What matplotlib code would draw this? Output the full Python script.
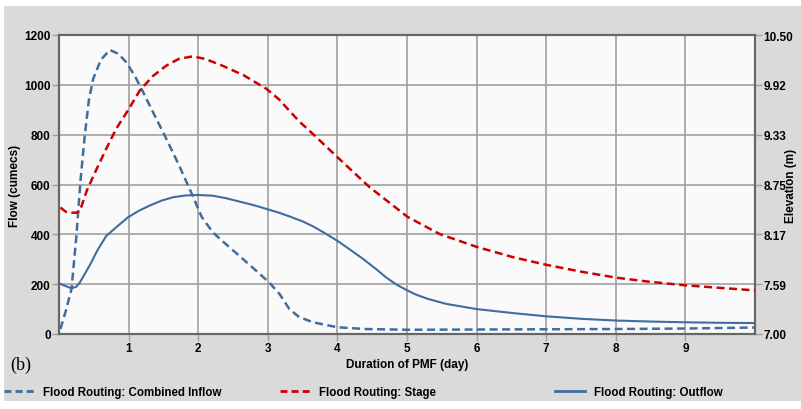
import matplotlib
matplotlib.use("Agg")
import matplotlib.pyplot as plt
import numpy as np
from matplotlib.patches import Rectangle
from matplotlib.lines import Line2D

plt.rcParams['font.family'] = ['Liberation Sans', 'DejaVu Sans']

# ---- data ----
inflow_t = [0.02, 0.10, 0.18, 0.25, 0.31, 0.37, 0.43, 0.49, 0.60, 0.73, 0.85, 0.97,
            1.10, 1.21, 1.36, 1.52, 1.72, 1.92, 2.05, 2.21, 2.40, 2.59, 2.80, 3.02,
            3.17, 3.31, 3.45, 3.65, 4.0, 4.4, 5.0, 6.0, 7.0, 8.0, 9.0, 10.0]
inflow_q = [20, 95, 181, 394, 620, 796, 940, 1023, 1100, 1140, 1125, 1090,
            1030, 970, 885, 796, 680, 555, 470, 408, 360, 314, 262, 207,
            160, 100, 68, 47, 27, 20, 17, 18, 19, 20, 22, 26]

outflow_t = [0.02, 0.10, 0.18, 0.25, 0.30, 0.45, 0.55, 0.68, 0.85, 0.99, 1.15, 1.30,
             1.47, 1.64, 1.82, 2.0, 2.21, 2.4, 2.6, 2.8, 2.98, 3.17, 3.31, 3.5,
             3.65, 3.8, 4.0, 4.2, 4.37, 4.55, 4.70, 4.85, 5.01, 5.13, 5.3, 5.56,
             6.0, 6.52, 7.0, 7.5, 8.0, 8.5, 9.0, 9.5, 10.0]
outflow_q = [201, 192, 183, 190, 207, 280, 335, 394, 435, 468, 495, 515,
             535, 549, 556, 558, 555, 545, 531, 517, 502, 486, 472, 452,
             432, 408, 374, 335, 301, 262, 227, 198, 174, 158, 141, 121,
             100, 84, 71, 61, 54, 50, 47, 45, 44]

stage_t = [0.02, 0.10, 0.18, 0.25, 0.30, 0.40, 0.54, 0.68, 0.82, 1.0, 1.16, 1.35,
           1.54, 1.72, 1.92, 2.1, 2.35, 2.65, 2.98, 3.17, 3.28, 3.45, 3.65, 4.0,
           4.46, 5.01, 5.47, 6.0, 6.52, 7.0, 7.5, 8.0, 8.5, 9.0, 9.5, 10.0]
stage_h = [8.48, 8.43, 8.42, 8.42, 8.44, 8.68, 8.93, 9.17, 9.40, 9.63, 9.85, 10.02,
           10.14, 10.22, 10.25, 10.22, 10.14, 10.03, 9.87, 9.74, 9.64, 9.49, 9.34, 9.07,
           8.72, 8.37, 8.17, 8.02, 7.90, 7.81, 7.73, 7.66, 7.61, 7.57, 7.54, 7.51]

x_ticks = [1, 2, 3, 4, 5, 6, 7, 8, 9]
flow_ticks = [0, 200, 400, 600, 800, 1000, 1200]
elev_ticks = [7.00, 7.5833, 8.1667, 8.75, 9.3333, 9.9167, 10.50]
elev_labels = ["7.00", "7.59", "8.17", "8.75", "9.33", "9.92", "10.50"]

series_names = ["Flood Routing: Combined Inflow", "Flood Routing: Stage", "Flood Routing: Outflow"]

# ---- style ----
W, H = 801, 410
fig = plt.figure(figsize=(W / 100, H / 100), dpi=100)
fig.patch.set_facecolor('white')
fig.add_artist(Rectangle((4 / W, 1 - 402 / H), 1 - 4 / W, (402 - 7) / H,
                         transform=fig.transFigure, facecolor='#dadada',
                         edgecolor='none', zorder=-10))

left, right, top, bottom = 59, 755, 36, 335
ax = fig.add_axes([left / W, 1 - bottom / H, (right - left) / W, (bottom - top) / H])
ax.set_facecolor('#fafafa')

blue = '#3f6d9e'
red = '#cc0000'

ax.plot(inflow_t, inflow_q, color=blue, lw=1.8, dashes=(3.2, 1.8), zorder=3)
ax.plot(outflow_t, outflow_q, color=blue, lw=1.5, zorder=3)

ax.set_xlim(0, 10)
ax.set_ylim(0, 1200)
ax.set_xticks(x_ticks)
ax.set_yticks(flow_ticks)
ax.grid(True, color='#a0a0a0', lw=1.2, zorder=0)
ax.set_axisbelow(True)

for s in ax.spines.values():
    s.set_color('#666666')
    s.set_linewidth(1.5)

ax.tick_params(axis='both', which='major', length=5, width=1, color='#a0a0a0',
               labelsize=8.5, pad=1)
for lab in ax.get_xticklabels() + ax.get_yticklabels():
    lab.set_fontweight('bold')

ax2 = ax.twinx()
ax2.plot(stage_t, stage_h, color=red, lw=1.8, dashes=(3.2, 1.8), zorder=3)
ax2.set_ylim(7.0, 10.5)
ax2.set_yticks(elev_ticks)
ax2.set_yticklabels(elev_labels, fontweight='bold')
ax2.tick_params(axis='y', length=5, width=1, color='#a0a0a0', labelsize=8.5, pad=1)
for s in ax2.spines.values():
    s.set_color('#666666')
    s.set_linewidth(1.5)

ax.set_xlabel('Duration of PMF (day)', fontsize=8.5, fontweight='bold', labelpad=3)
ax.set_ylabel('Flow (cumecs)', fontsize=8.5, fontweight='bold', labelpad=2)
ax2.set_ylabel('Elevation (m)', fontsize=8.5, fontweight='bold', va='center', ha='center')
ax2.yaxis.set_label_coords((791 - left) / (right - left), 0.5)

fig.text(10 / W, 1 - 365 / H, '(b)', fontsize=13, family=['Liberation Serif', 'DejaVu Serif'],
         va='center', ha='left')

# legend entries, one per series
handles = [Line2D([], [], color=blue, lw=2, dashes=(2.5, 1.5)),
           Line2D([], [], color=red, lw=2, dashes=(2.5, 1.5)),
           Line2D([], [], color=blue, lw=2)]
xpos = [4, 280, 555]
for h, name, xp in zip(handles, series_names, xpos):
    fig.legend([h], [name], loc='center left', bbox_to_anchor=(xp / W, 1 - 393 / H),
               frameon=False, prop={'size': 8.3, 'weight': 'bold'},
               handlelength=2.6, handletextpad=0.8, borderpad=0, borderaxespad=0)

fig.savefig('out.png', dpi=100, facecolor=fig.get_facecolor())
